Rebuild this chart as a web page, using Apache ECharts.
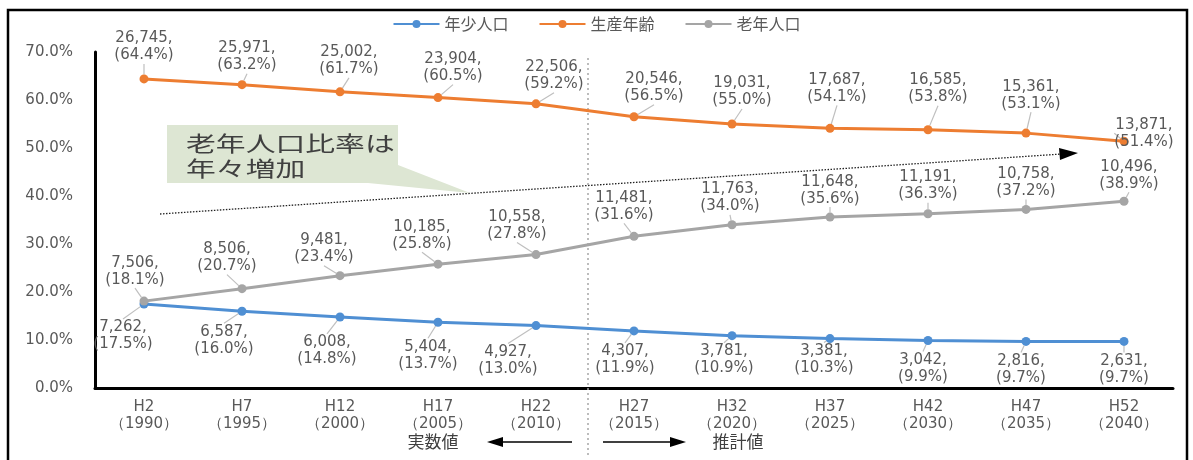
<!DOCTYPE html>
<html><head><meta charset="utf-8">
<script src="https://cdn.jsdelivr.net/npm/echarts@6/dist/echarts.min.js"></script>
<style>html,body{margin:0;padding:0;background:#fff}#c{width:1193px;height:460px}</style>
</head><body><div id="c"></div>
<script>
// ---- data ----
const categories = ['H2\n（1990）','H7\n（1995）','H12\n（2000）','H17\n（2005）','H22\n（2010）','H27\n（2015）','H32\n（2020）','H37\n（2025）','H42\n（2030）','H47\n（2035）','H52\n（2040）'];
const seriesNames = ['年少人口','生産年齢','老年人口'];
const youngCount = [7262,6587,6008,5404,4927,4307,3781,3381,3042,2816,2631];
const youngPct   = [17.5,16.0,14.8,13.7,13.0,11.9,10.9,10.3,9.9,9.7,9.7];
const workCount  = [26745,25971,25002,23904,22506,20546,19031,17687,16585,15361,13871];
const workPct    = [64.4,63.2,61.7,60.5,59.2,56.5,55.0,54.1,53.8,53.1,51.4];
const oldCount   = [7506,8506,9481,10185,10558,11481,11763,11648,11191,10758,10496];
const oldPct     = [18.1,20.7,23.4,25.8,27.8,31.6,34.0,35.6,36.3,37.2,38.9];
const yTicks = [0,10,20,30,40,50,60,70];

// ---- label placement (style, not data) ----
const youngOff = [[-21,32],[-18,29],[-13,34],[-10,33],[-28,35],[-9,29],[-8,24],[-6,21],[-5,28],[-5,28],[0,28]];
const workOff  = [[0,-32],[5,-28],[9,-31],[15,-30],[18,-28],[20,-29],[10,-32],[7,-40],[10,-41],[5,-38],[20,-8]];
const oldOff   = [[-9,-30],[-15,-31],[-16,-27],[-16,-29],[-19,-29],[-10,-30],[-2,-27],[0,-27],[0,-28],[0,-27],[5,-26]];

const txt = '#595959';
const fmtNum = n => n.toLocaleString('en-US');
function mkSeries(name, pct, cnt, off, color){
  return {
    name, type:'line', data:pct, color,
    symbol:'circle', symbolSize:9,
    lineStyle:{width:3, color},
    itemStyle:{color},
    label:{show:true, position:'inside', fontFamily:'DejaVu Sans', fontSize:15, lineHeight:17, color:txt,
      formatter:p => fmtNum(cnt[p.dataIndex]) + ',\n(' + pct[p.dataIndex].toFixed(1) + '%)'},
    labelLine:{show:true, lineStyle:{color:'#bfbfbf', width:1.2}},
    labelLayout:p => ({dx:off[p.dataIndex][0], dy:off[p.dataIndex][1]}),
    emphasis:{disabled:true}, z:3
  };
}

const chart = echarts.init(document.getElementById('c'));
chart.setOption({
  animation:false,
  backgroundColor:'#fff',
  legend:{top:11, left:'center', itemWidth:46, itemHeight:10, itemGap:30,
    textStyle:{fontFamily:'Noto Sans CJK JP', fontSize:16, color:txt}, data:seriesNames},
  grid:{left:95, right:20, top:52, bottom:72},
  xAxis:{type:'category', data:categories, boundaryGap:true,
    axisLine:{lineStyle:{color:'#000', width:3}}, axisTick:{show:false},
    axisLabel:{fontFamily:'DejaVu Sans', fontSize:15, color:txt, lineHeight:17, margin:11}},
  yAxis:{type:'value', min:yTicks[0], max:yTicks[yTicks.length-1], interval:10,
    axisLine:{show:true, lineStyle:{color:'#000', width:3}}, axisTick:{show:false}, splitLine:{show:false},
    axisLabel:{fontFamily:'DejaVu Sans', fontSize:15, color:txt, margin:22, formatter:v => v.toFixed(1)+'%'}},
  series:[
    mkSeries(seriesNames[0], youngPct, youngCount, youngOff, '#4f8fd3'),
    mkSeries(seriesNames[1], workPct, workCount, workOff, '#ed7d31'),
    mkSeries(seriesNames[2], oldPct, oldCount, oldOff, '#a5a5a5')
  ],
  graphic:[
    {type:'rect', shape:{x:8, y:10, width:1179, height:460}, style:{fill:'none', stroke:'#000', lineWidth:2.5}, silent:true},
    // boundary dotted line
    {type:'line', shape:{x1:588, y1:58, x2:588, y2:456}, style:{stroke:'#a6a6a6', lineWidth:1.5, lineDash:[2,3]}, silent:true, z:1},
    // trend arrow
    {type:'line', shape:{x1:160, y1:214, x2:1062, y2:154}, style:{stroke:'#222', lineWidth:1.3, lineDash:[1.5,1.5]}, silent:true},
    {type:'polygon', shape:{points:[[1059,148],[1078,153],[1060,160]]}, style:{fill:'#000'}, silent:true},
    // callout
    {type:'polygon', shape:{points:[[368,183],[398,165],[470,193]]}, style:{fill:'#dde6d3'}, silent:true},
    {type:'rect', shape:{x:167, y:125, width:231, height:58}, style:{fill:'#dde6d3'}, silent:true},
    {type:'text', x:186, y:131, scaleX:1.42, originX:0, originY:0, style:{text:'老年人口比率は\n年々増加', fontFamily:'Noto Sans CJK JP', fontSize:21, lineHeight:25, fill:'#404040'}, silent:true},
    // bottom arrows
    {type:'text', x:433, y:442, style:{text:'実数値', fontFamily:'Noto Sans CJK JP', fontSize:17, fill:'#404040', align:'center', verticalAlign:'middle'}, silent:true},
    {type:'line', shape:{x1:500, y1:442, x2:572, y2:442}, style:{stroke:'#000', lineWidth:1.5}, silent:true},
    {type:'polygon', shape:{points:[[487,442],[503,437],[503,447]]}, style:{fill:'#000'}, silent:true},
    {type:'line', shape:{x1:603, y1:442, x2:672, y2:442}, style:{stroke:'#000', lineWidth:1.5}, silent:true},
    {type:'polygon', shape:{points:[[686,442],[670,437],[670,447]]}, style:{fill:'#000'}, silent:true},
    {type:'text', x:738, y:442, style:{text:'推計値', fontFamily:'Noto Sans CJK JP', fontSize:17, fill:'#404040', align:'center', verticalAlign:'middle'}, silent:true}
  ]
});
</script></body></html>
